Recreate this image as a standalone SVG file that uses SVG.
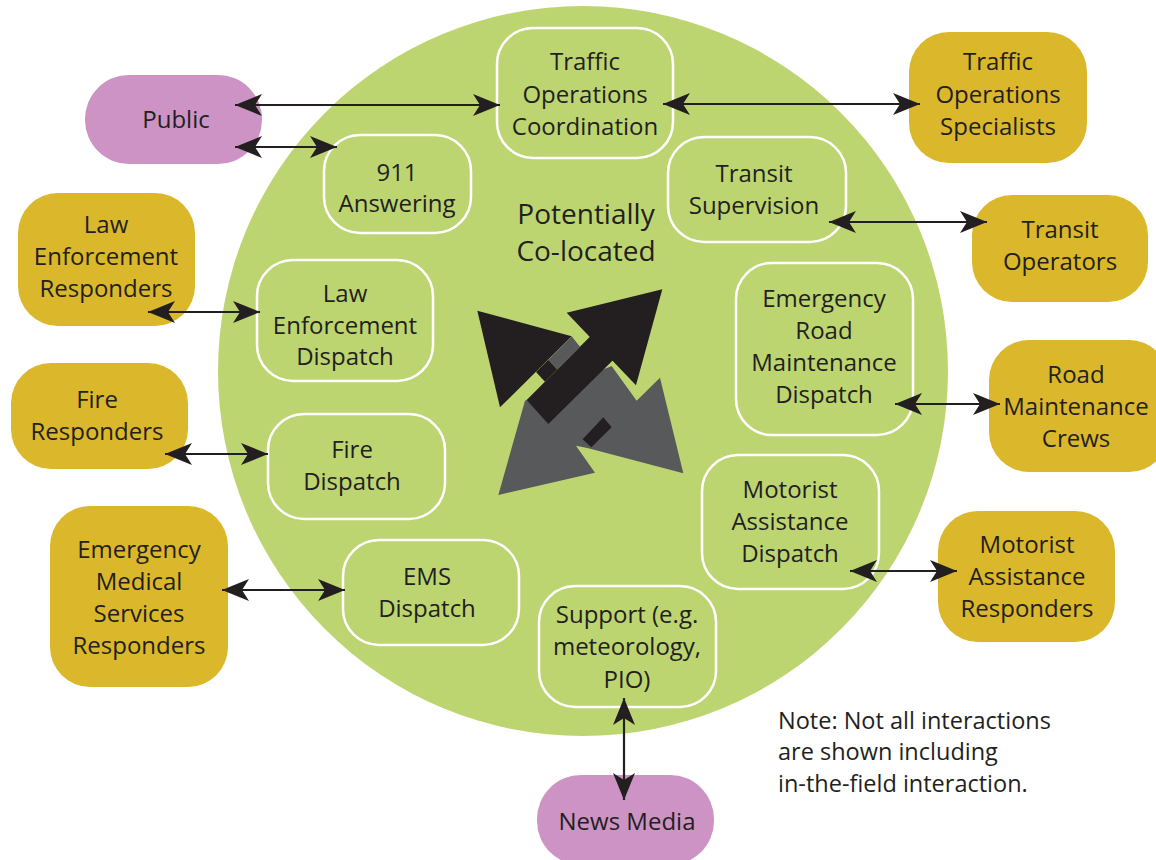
<svg xmlns="http://www.w3.org/2000/svg" width="1156" height="860" viewBox="0 0 1156 860">
<defs>
<style>
text{font-family:"Open Sans","Liberation Sans",sans-serif;font-size:24px;fill:#231f20;text-anchor:middle}
.inner{fill:none;stroke:#ffffff;stroke-width:2.5}
.gold{fill:#dbb72b}
.pink{fill:#cc93c4}
.conn{stroke:#231f20;stroke-width:2.2;fill:none;marker-start:url(#ah);marker-end:url(#ah)}
.halo{stroke:#bdd571;stroke-width:24;paint-order:stroke fill;stroke-linejoin:round}
</style>
<marker id="ah" markerUnits="userSpaceOnUse" viewBox="-28 -13 30 26" refX="0" refY="0" markerWidth="30" markerHeight="26" orient="auto-start-reverse">
<path d="M0,0 L-27,-11 L-20,0 L-27,11 Z" fill="#231f20"/>
</marker>
</defs>
<rect width="1156" height="860" fill="#ffffff"/>
<circle cx="583" cy="371" r="365" fill="#bdd571"/>
<g id="center-icon" transform="translate(470,280) scale(0.3333)">
<polygon class="halo" fill="#58595b" points="165,362 425,258 500,362 570,293 640,580 355,505 318,497 375,578 85,645"/>
<polygon fill="#231f20" points="338,478 364,502 425,442 400,412"/>
<polygon class="halo" fill="#231f20" points="22,92 305,169 90,382"/>
<polygon class="halo" fill="#231f20" points="290,98 577,28 498,316"/>
<polygon fill="#231f20" points="170,360 380,150 460,210 235,432"/>
<polygon fill="#231f20" points="198,276 235,239 262,268 225,305"/>
<polygon fill="#58595b" points="235,239 305,169 330,200 262,268"/>
</g>
<text x="586" y="224" style="font-size:28px">Potentially</text>
<text x="586" y="261" style="font-size:28px">Co-located</text>
<g id="toc"><rect class="inner" x="497" y="28" width="176" height="130" rx="36"/><text x="585" y="70">Traffic</text><text x="585" y="103">Operations</text><text x="585" y="135">Coordination</text></g>
<g id="answering911"><rect class="inner" x="324" y="135" width="147" height="98" rx="36"/><text x="397" y="181">911</text><text x="397" y="212">Answering</text></g>
<g id="transit-supervision"><rect class="inner" x="668" y="137" width="178" height="105" rx="36"/><text x="754" y="182">Transit</text><text x="754" y="214">Supervision</text></g>
<g id="le-dispatch"><rect class="inner" x="257" y="260" width="176" height="121" rx="36"/><text x="345" y="302">Law</text><text x="345" y="334">Enforcement</text><text x="345" y="365">Dispatch</text></g>
<g id="road-dispatch"><rect class="inner" x="736" y="263" width="177" height="172" rx="36"/><text x="824" y="307">Emergency</text><text x="824" y="339">Road</text><text x="824" y="371">Maintenance</text><text x="824" y="403">Dispatch</text></g>
<g id="fire-dispatch"><rect class="inner" x="268" y="414" width="177" height="105" rx="36"/><text x="352" y="458">Fire</text><text x="352" y="490">Dispatch</text></g>
<g id="motorist-dispatch"><rect class="inner" x="702" y="455" width="177" height="134" rx="36"/><text x="790" y="498">Motorist</text><text x="790" y="530">Assistance</text><text x="790" y="562">Dispatch</text></g>
<g id="ems-dispatch"><rect class="inner" x="343" y="540" width="176" height="105" rx="36"/><text x="427" y="585">EMS</text><text x="427" y="617">Dispatch</text></g>
<g id="support"><rect class="inner" x="539" y="586" width="177" height="121" rx="36"/><text x="627" y="623">Support (e.g.</text><text x="627" y="655">meteorology,</text><text x="627" y="688">PIO)</text></g>
<g id="public"><rect class="pink" x="85" y="75" width="177" height="89" rx="44"/><text x="176" y="128">Public</text></g>
<g id="news-media"><rect class="pink" x="537" y="775" width="177" height="90" rx="44"/><text x="627" y="830">News Media</text></g>
<g id="tos"><rect class="gold" x="909" y="32" width="178" height="131" rx="40"/><text x="998" y="70">Traffic</text><text x="998" y="103">Operations</text><text x="998" y="135">Specialists</text></g>
<g id="transit-operators"><rect class="gold" x="972" y="195" width="176" height="107" rx="40"/><text x="1060" y="238">Transit</text><text x="1060" y="270">Operators</text></g>
<g id="le-responders"><rect class="gold" x="18" y="193" width="177" height="133" rx="40"/><text x="106" y="233">Law</text><text x="106" y="265">Enforcement</text><text x="106" y="297">Responders</text></g>
<g id="road-crews"><rect class="gold" x="989" y="340" width="180" height="132" rx="40"/><text x="1076" y="383">Road</text><text x="1076" y="415">Maintenance</text><text x="1076" y="447">Crews</text></g>
<g id="fire-responders"><rect class="gold" x="11" y="363" width="177" height="106" rx="40"/><text x="97" y="408">Fire</text><text x="97" y="440">Responders</text></g>
<g id="ems-responders"><rect class="gold" x="50" y="506" width="178" height="181" rx="40"/><text x="139" y="558">Emergency</text><text x="139" y="590">Medical</text><text x="139" y="622">Services</text><text x="139" y="654">Responders</text></g>
<g id="motorist-responders"><rect class="gold" x="938" y="511" width="177" height="131" rx="40"/><text x="1027" y="553">Motorist</text><text x="1027" y="585">Assistance</text><text x="1027" y="617">Responders</text></g>
<g id="connectors">
<line class="conn" x1="235" y1="105" x2="500" y2="105"/>
<line class="conn" x1="235" y1="147" x2="337" y2="147"/>
<line class="conn" x1="663" y1="104" x2="920" y2="104"/>
<line class="conn" x1="829" y1="222" x2="987" y2="222"/>
<line class="conn" x1="148" y1="312" x2="260" y2="312"/>
<line class="conn" x1="895" y1="404" x2="1000" y2="404"/>
<line class="conn" x1="165" y1="454" x2="268" y2="454"/>
<line class="conn" x1="222" y1="590" x2="345" y2="590"/>
<line class="conn" x1="850" y1="571" x2="957" y2="571"/>
<line class="conn" x1="624" y1="698" x2="624" y2="800"/>
</g>
<g id="note">
<text x="778" y="729" style="text-anchor:start;font-size:23.5px">Note: Not all interactions</text>
<text x="778" y="760" style="text-anchor:start;font-size:23.5px">are shown including</text>
<text x="778" y="792" style="text-anchor:start;font-size:23.5px">in-the-field interaction.</text>
</g>
</svg>
